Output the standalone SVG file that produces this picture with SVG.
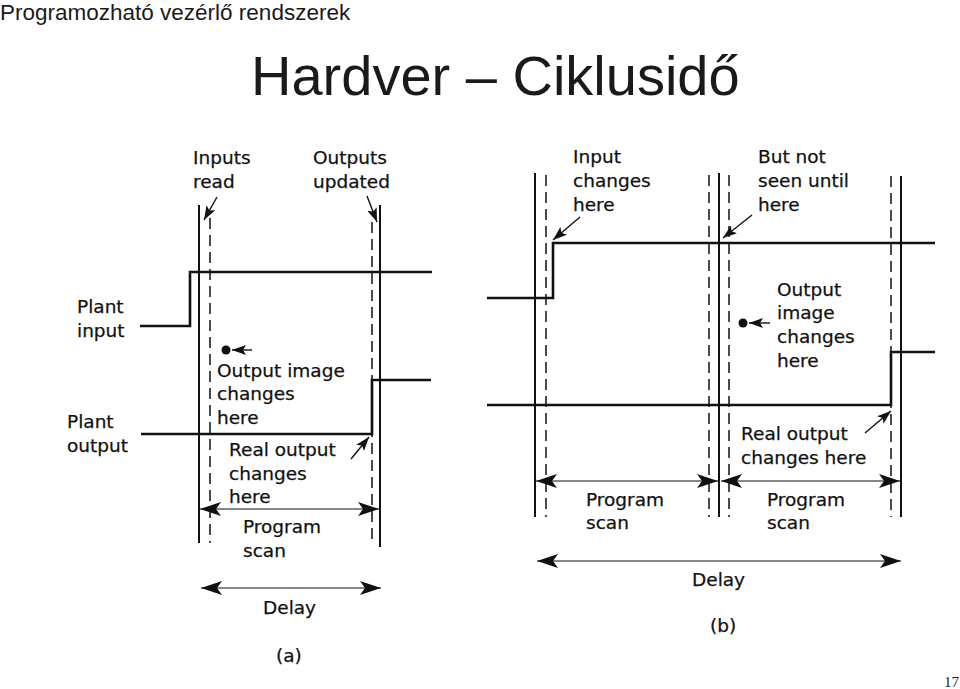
<svg xmlns="http://www.w3.org/2000/svg" width="960" height="689" viewBox="0 0 960 689">
<style>
.hdr{font-family:"Liberation Sans",Arial,sans-serif;fill:#1a1a1a}
.lbl{font-family:"DejaVu Sans","Liberation Sans",sans-serif;font-size:18.5px;fill:#111;stroke:#111;stroke-width:0.25}
.sol{stroke:#111;stroke-width:2;fill:none}
.dsh{stroke:#111;stroke-width:1.5;fill:none;stroke-dasharray:11 6}
.sig{stroke:#111;stroke-width:2.6;fill:none;stroke-linejoin:miter}
.dim{stroke:#111;stroke-width:1.2;fill:none;marker-start:url(#big);marker-end:url(#big)}
.ptr{stroke:#111;stroke-width:1.4;fill:none;marker-end:url(#small)}
</style>
<defs>
<marker id="big" markerUnits="userSpaceOnUse" markerWidth="22" markerHeight="14" refX="21" refY="7" orient="auto-start-reverse" viewBox="0 0 22 14">
<path d="M0,0 L21,7 L0,14 L5,7 Z" fill="#111"/>
</marker>
<marker id="small" markerUnits="userSpaceOnUse" markerWidth="15" markerHeight="10" refX="14" refY="5" orient="auto" viewBox="0 0 15 10">
<path d="M0,0 L14,5 L0,10 L3,5 Z" fill="#111"/>
</marker>
</defs>
<rect width="960" height="689" fill="#fff"/>

<g id="header">
<text class="hdr" x="0" y="20" font-size="22.5">Programozható vezérlő rendszerek</text>
<text class="hdr" x="251" y="95" font-size="56">Hardver – Ciklusidő</text>
<text x="959" y="687" font-size="15" text-anchor="end" font-family="Liberation Serif,serif" fill="#222">17</text>
</g>

<!-- Diagram (a) -->
<g id="a-grid">
<line class="sol" x1="199" y1="205" x2="199" y2="543"/>
<line class="dsh" x1="210" y1="218" x2="210" y2="543"/>
<line class="dsh" x1="372" y1="222" x2="372" y2="545"/>
<line class="sol" x1="380" y1="205" x2="380" y2="547"/>
</g>
<g id="a-plant-input-signal"><path class="sig" d="M140,326 H190 V272 H432"/></g>
<g id="a-plant-output-signal"><path class="sig" d="M141,434 H372 V380 H431"/></g>

<g id="a-inputs-read"><text class="lbl" x="193" y="164">Inputs</text><text class="lbl" x="193" y="188">read</text></g>
<g id="a-outputs-updated"><text class="lbl" x="313" y="164">Outputs</text><text class="lbl" x="313" y="188">updated</text></g>
<g id="a-plant-input"><text class="lbl" x="77" y="313">Plant</text><text class="lbl" x="77" y="337">input</text></g>
<g id="a-plant-output"><text class="lbl" x="67" y="428">Plant</text><text class="lbl" x="67" y="452">output</text></g>
<g id="a-output-image">
<circle cx="226" cy="350" r="4.5" fill="#111"/>
<text class="lbl" x="217" y="377">Output image</text><text class="lbl" x="217" y="400">changes</text><text class="lbl" x="217" y="424">here</text>
</g>
<g id="a-real-output"><text class="lbl" x="229" y="456">Real output</text><text class="lbl" x="229" y="480">changes</text><text class="lbl" x="229" y="503">here</text></g>
<g id="a-program-scan"><text class="lbl" x="243" y="533">Program</text><text class="lbl" x="243" y="557">scan</text></g>
<g id="a-delay"><text class="lbl" x="263" y="614">Delay</text></g>
<g id="a-caption"><text class="lbl" x="276" y="662">(a)</text></g>

<!-- Diagram (b) -->
<g id="b-grid">
<line class="sol" x1="535" y1="173" x2="535" y2="517"/>
<line class="dsh" x1="546" y1="175" x2="546" y2="517"/>
<line class="dsh" x1="709" y1="175" x2="709" y2="517"/>
<line class="sol" x1="719" y1="173" x2="719" y2="517"/>
<line class="dsh" x1="729" y1="175" x2="729" y2="517"/>
<line class="dsh" x1="891" y1="176" x2="891" y2="517"/>
<line class="sol" x1="901" y1="176" x2="901" y2="517"/>
</g>
<g id="b-plant-input-signal"><path class="sig" d="M487,298 H553 V243 H935"/></g>
<g id="b-plant-output-signal"><path class="sig" d="M487,405 H891 V352 H935"/></g>

<g id="b-input-changes"><text class="lbl" x="573" y="163">Input</text><text class="lbl" x="573" y="187">changes</text><text class="lbl" x="573" y="211">here</text></g>
<g id="b-not-seen"><text class="lbl" x="758" y="163">But not</text><text class="lbl" x="758" y="187">seen until</text><text class="lbl" x="758" y="211">here</text></g>
<g id="b-output-image">
<circle cx="743" cy="323" r="4.5" fill="#111"/>
<text class="lbl" x="777" y="296">Output</text><text class="lbl" x="777" y="319">image</text><text class="lbl" x="777" y="343">changes</text><text class="lbl" x="777" y="367">here</text>
</g>
<g id="b-real-output"><text class="lbl" x="741" y="440">Real output</text><text class="lbl" x="741" y="464">changes here</text></g>
<g id="b-program-scan-1"><text class="lbl" x="586" y="506">Program</text><text class="lbl" x="586" y="529">scan</text></g>
<g id="b-program-scan-2"><text class="lbl" x="767" y="506">Program</text><text class="lbl" x="767" y="529">scan</text></g>
<g id="b-delay"><text class="lbl" x="692" y="586">Delay</text></g>
<g id="b-caption"><text class="lbl" x="710" y="632">(b)</text></g>

<g id="connectors">
<line class="ptr" x1="217" y1="197" x2="204" y2="220"/>
<line class="ptr" x1="367" y1="196" x2="377" y2="222"/>
<line class="ptr" x1="252" y1="350" x2="232" y2="350"/>
<line class="ptr" x1="351" y1="459" x2="369" y2="437"/>
<line class="dim" x1="200" y1="509" x2="379" y2="509"/>
<line class="dim" x1="201" y1="588" x2="381" y2="588"/>
<line class="ptr" x1="580" y1="217" x2="553" y2="240"/>
<line class="ptr" x1="752" y1="215" x2="723" y2="238"/>
<line class="ptr" x1="770" y1="323" x2="749" y2="323"/>
<line class="ptr" x1="865" y1="433" x2="891" y2="411"/>
<line class="dim" x1="536" y1="481" x2="718" y2="481"/>
<line class="dim" x1="721" y1="481" x2="900" y2="481"/>
<line class="dim" x1="537" y1="561" x2="901" y2="561"/>
</g>
</svg>
